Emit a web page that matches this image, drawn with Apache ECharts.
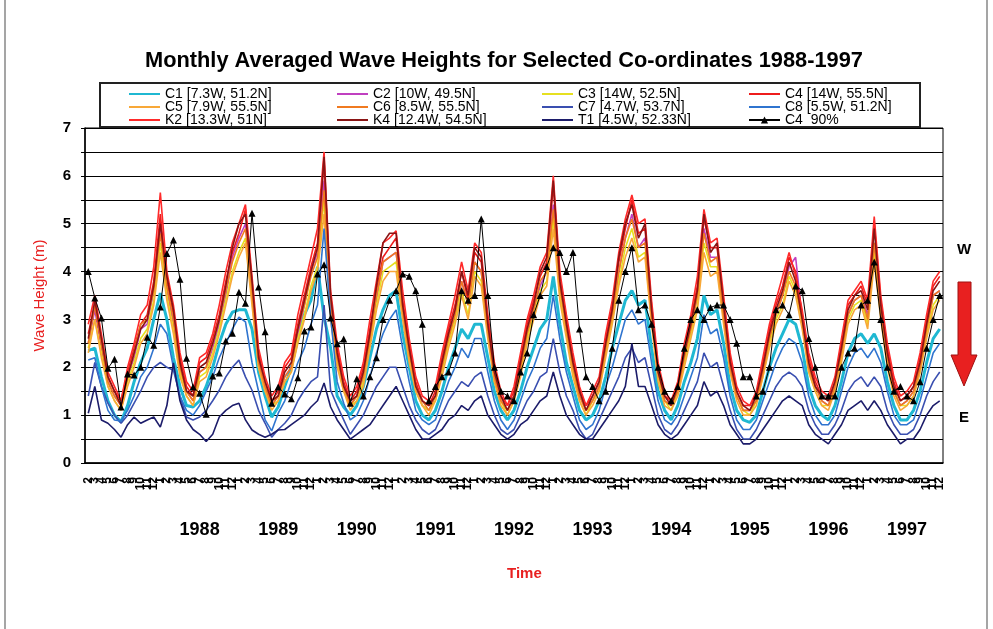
<!DOCTYPE html>
<html><head><meta charset="utf-8">
<script src="https://cdn.jsdelivr.net/npm/echarts@6/dist/echarts.min.js"></script>
<style>html,body{margin:0;padding:0;background:#fff}#c{width:993px;height:629px}</style>
</head><body><div id="c"></div>
<script>
// ---- categories ----
const yearLabels = ['', '1988', '1989', '1990', '1991', '1992', '1993', '1994', '1995', '1996', '1997'];
const monthLabels = ['1','2','3','4','5','6','7','8','9','10','11','12'];
const firstGroupSkip = 1; // first (unlabelled) group starts at month 2

// ---- series values (monthly, Feb of first group .. Dec 1997) ----
const C1 = [2.35,2.4,1.8,1.3,1.0,0.86,1.2,1.7,2.1,2.4,3.0,
 3.55,3.0,2.2,1.6,1.2,1.17,1.3,1.6,2.0,2.5,2.9,3.15,
 3.2,3.2,2.8,1.9,1.4,0.96,1.17,1.6,2.0,2.6,3.1,3.4,
 4.1,3.05,2.4,1.4,1.17,1.0,1.2,1.6,2.2,2.8,3.2,3.5,
 3.6,2.7,2.0,1.3,1.0,0.9,1.1,1.5,2.0,2.4,2.8,2.6,
 2.9,2.9,2.2,1.5,1.1,0.9,1.1,1.5,2.0,2.4,2.8,3.0,
 3.9,2.9,2.1,1.6,1.1,0.9,1.0,1.3,1.8,2.4,2.9,3.4,
 3.6,3.3,3.4,2.4,1.5,1.1,0.9,1.2,1.7,2.1,2.6,3.5,
 3.1,3.2,2.5,1.6,1.1,0.9,0.85,1.0,1.5,2.0,2.4,2.7,
 3.0,2.9,2.4,1.6,1.2,1.0,0.9,1.2,1.7,2.3,2.6,2.7,
 2.5,2.7,2.4,1.7,1.2,0.9,0.9,1.1,1.5,2.1,2.6,2.8];
const C2 = [2.5,3.2,2.4,1.7,1.4,1.2,1.8,2.2,2.8,2.9,3.6,
 5.0,3.6,2.9,2.0,1.5,1.3,1.9,2.0,2.4,2.9,3.5,4.3,
 4.7,5.0,3.5,2.1,1.6,1.2,1.4,1.8,2.0,2.7,3.3,4.0,
 4.4,5.9,3.3,2.2,1.6,1.2,1.4,1.8,2.6,3.4,4.2,4.3,
 4.4,3.2,2.3,1.6,1.2,1.1,1.4,2.0,2.6,3.1,3.8,3.3,
 4.2,4.0,2.8,1.8,1.3,1.1,1.4,2.0,2.7,3.2,3.7,4.0,
 5.4,3.7,2.8,2.0,1.4,1.1,1.3,1.6,2.4,3.1,4.0,4.7,
 5.2,4.5,4.7,3.1,1.9,1.3,1.2,1.5,2.2,2.8,3.5,4.9,
 4.3,4.3,3.2,2.0,1.4,1.1,1.1,1.3,1.9,2.6,3.1,3.5,
 4.1,4.3,3.0,2.0,1.6,1.3,1.2,1.6,2.3,3.1,3.4,3.5,
 3.1,4.6,3.2,2.2,1.5,1.2,1.3,1.5,2.0,2.8,3.5,3.6];
const C3 = [2.4,3.0,2.3,1.6,1.3,1.1,1.7,2.1,2.6,2.8,3.4,
 4.6,3.5,2.8,1.9,1.4,1.2,1.8,1.9,2.3,2.8,3.4,4.0,
 4.4,4.7,3.4,2.0,1.5,1.2,1.3,1.7,1.9,2.6,3.1,3.7,
 4.1,5.5,3.1,2.1,1.5,1.2,1.3,1.7,2.5,3.3,4.0,4.1,
 4.2,3.1,2.2,1.5,1.2,1.1,1.3,1.9,2.5,3.0,3.6,3.1,
 4.0,3.8,2.7,1.7,1.3,1.0,1.3,1.9,2.6,3.1,3.6,3.8,
 5.1,3.5,2.7,1.9,1.3,1.0,1.3,1.5,2.3,3.0,3.8,4.5,
 4.9,4.3,4.4,3.0,1.8,1.3,1.1,1.5,2.1,2.7,3.3,4.6,
 4.1,4.1,3.0,1.9,1.4,1.1,1.0,1.3,1.8,2.5,3.0,3.3,
 3.9,3.6,2.9,1.9,1.5,1.2,1.2,1.5,2.2,3.0,3.3,3.4,
 2.9,4.4,3.1,2.1,1.5,1.2,1.2,1.4,1.9,2.7,3.3,3.5];
const C4 = [2.7,3.3,2.5,1.8,1.5,1.3,1.9,2.4,2.9,3.1,3.8,
 5.2,3.8,3.1,2.2,1.6,1.4,2.1,2.2,2.6,3.1,3.8,4.4,
 4.8,5.3,3.7,2.3,1.7,1.3,1.5,2.0,2.2,2.9,3.5,4.1,
 4.6,6.3,3.4,2.4,1.7,1.3,1.5,2.0,2.8,3.6,4.3,4.5,
 4.7,3.4,2.5,1.7,1.3,1.2,1.5,2.2,2.8,3.3,4.0,3.4,
 4.4,4.2,3.0,2.0,1.4,1.2,1.5,2.2,2.9,3.4,3.9,4.2,
 5.8,3.9,3.0,2.2,1.5,1.2,1.4,1.7,2.6,3.3,4.2,4.9,
 5.5,4.8,4.9,3.3,2.0,1.4,1.3,1.6,2.4,3.0,3.7,5.1,
 4.5,4.5,3.4,2.2,1.5,1.2,1.2,1.4,2.1,2.8,3.3,3.7,
 4.3,4.0,3.1,2.2,1.7,1.4,1.3,1.7,2.5,3.3,3.5,3.7,
 3.3,5.0,3.4,2.4,1.7,1.3,1.4,1.6,2.2,3.0,3.7,3.9];
const C5 = [2.3,3.0,2.2,1.6,1.3,1.1,1.6,2.0,2.5,2.7,3.3,
 4.4,3.4,2.7,1.8,1.4,1.2,1.7,1.8,2.2,2.7,3.3,3.9,
 4.3,4.6,3.3,2.0,1.5,1.1,1.3,1.7,1.9,2.5,3.0,3.6,
 4.0,5.2,3.0,2.0,1.5,1.1,1.3,1.6,2.4,3.2,3.8,4.0,
 4.0,3.0,2.1,1.5,1.2,1.0,1.3,1.8,2.4,2.9,3.5,3.0,
 3.9,3.7,2.6,1.7,1.2,1.0,1.3,1.8,2.5,3.0,3.5,3.7,
 4.9,3.4,2.6,1.8,1.3,1.0,1.2,1.5,2.2,2.9,3.7,4.3,
 4.7,4.2,4.3,2.9,1.7,1.2,1.1,1.4,2.0,2.6,3.2,4.4,
 3.9,4.0,2.9,1.9,1.3,1.0,1.0,1.2,1.8,2.4,2.9,3.2,
 3.8,3.5,2.8,1.9,1.5,1.2,1.1,1.5,2.1,2.9,3.2,3.3,
 2.8,4.2,3.0,2.0,1.4,1.1,1.2,1.4,1.9,2.6,3.2,3.4];
const C6 = [2.5,3.3,2.5,1.7,1.4,1.2,1.8,2.3,2.9,3.0,3.6,
 4.8,3.7,3.0,2.0,1.5,1.3,1.9,2.0,2.5,3.0,3.6,4.2,
 4.6,4.9,3.6,2.1,1.6,1.2,1.4,1.8,2.0,2.8,3.3,3.9,
 4.3,5.7,3.3,2.2,1.6,1.2,1.4,1.8,2.6,3.5,4.2,4.3,
 4.4,3.2,2.3,1.6,1.3,1.1,1.4,2.0,2.6,3.1,3.8,3.3,
 4.2,4.0,2.8,1.8,1.3,1.1,1.4,2.0,2.7,3.2,3.8,4.0,
 5.3,3.7,2.8,2.0,1.4,1.1,1.3,1.6,2.4,3.1,4.0,4.7,
 5.1,4.5,4.6,3.1,1.9,1.3,1.2,1.5,2.2,2.8,3.5,4.8,
 4.2,4.3,3.1,2.0,1.4,1.1,1.1,1.3,1.9,2.6,3.1,3.5,
 4.0,3.7,3.0,2.0,1.6,1.3,1.2,1.6,2.3,3.1,3.4,3.5,
 3.0,4.6,3.2,2.2,1.5,1.2,1.3,1.5,2.0,2.8,3.5,3.6];
const C7 = [1.4,2.1,1.6,1.25,1.0,0.83,1.0,1.25,1.5,1.8,2.0,
 2.1,2.0,1.94,1.4,0.96,0.9,0.96,1.1,1.3,1.52,1.8,2.0,
 2.15,1.8,1.52,1.1,0.83,0.54,0.7,0.83,1.0,1.3,1.52,1.7,
 1.8,3.3,1.52,1.2,0.9,0.6,0.8,1.0,1.3,1.6,1.8,2.0,
 2.0,1.6,1.2,0.9,0.7,0.6,0.7,1.0,1.3,1.5,1.7,1.6,
 1.8,1.9,1.4,1.0,0.7,0.6,0.7,1.0,1.3,1.5,1.8,1.9,
 2.6,1.9,1.4,1.1,0.7,0.5,0.6,0.9,1.2,1.5,1.8,2.2,
 2.4,2.1,2.2,1.6,1.0,0.7,0.6,0.8,1.1,1.4,1.7,2.3,
 2.0,2.1,1.6,1.1,0.7,0.5,0.5,0.7,1.0,1.3,1.6,1.8,
 1.9,1.8,1.6,1.1,0.8,0.6,0.6,0.8,1.1,1.5,1.7,1.8,
 1.6,1.8,1.6,1.1,0.8,0.6,0.6,0.7,1.0,1.4,1.7,1.9];
const C8 = [2.15,2.2,1.6,1.1,0.9,0.88,1.1,1.4,1.8,2.0,2.4,
 2.9,2.7,2.0,1.4,1.1,1.0,1.2,1.5,1.8,2.2,2.5,2.8,
 3.05,2.95,2.1,1.5,0.9,0.67,1.04,1.3,1.7,2.1,2.4,2.9,
 3.3,4.9,3.05,1.7,1.25,0.9,1.0,1.3,1.8,2.3,2.7,3.0,
 3.2,2.4,1.7,1.1,0.9,0.8,0.9,1.3,1.7,2.0,2.4,2.2,
 2.6,2.6,1.9,1.3,0.9,0.7,0.9,1.3,1.7,2.0,2.4,2.6,
 3.5,2.6,1.9,1.4,0.9,0.7,0.8,1.1,1.6,2.0,2.5,3.0,
 3.2,2.9,3.0,2.1,1.3,0.9,0.8,1.0,1.4,1.8,2.2,3.1,
 2.7,2.8,2.2,1.4,0.9,0.7,0.7,0.9,1.3,1.7,2.1,2.4,
 2.6,2.5,2.1,1.4,1.0,0.8,0.8,1.0,1.5,2.0,2.3,2.4,
 2.2,2.4,2.1,1.5,1.0,0.8,0.8,0.9,1.3,1.8,2.3,2.5];
const K2 = [2.9,3.5,2.7,1.9,1.6,1.3,2.0,2.5,3.1,3.3,4.1,
 5.65,4.0,3.3,2.3,1.7,1.5,2.2,2.3,2.7,3.3,4.0,4.6,
 5.0,5.4,3.9,2.4,1.8,1.4,1.6,2.1,2.3,3.1,3.7,4.3,
 4.9,6.5,3.6,2.5,1.8,1.4,1.6,2.1,3.0,3.8,4.6,4.7,
 4.85,3.6,2.6,1.8,1.4,1.3,1.6,2.3,2.9,3.5,4.2,3.6,
 4.6,4.4,3.1,2.1,1.5,1.2,1.6,2.3,3.0,3.5,4.1,4.4,
 6.0,4.0,3.1,2.3,1.6,1.2,1.5,1.8,2.7,3.4,4.4,5.1,
 5.6,5.0,5.1,3.4,2.1,1.5,1.3,1.7,2.5,3.1,3.9,5.3,
 4.6,4.7,3.5,2.3,1.6,1.3,1.2,1.5,2.2,2.9,3.4,3.9,
 4.4,3.9,3.2,2.3,1.8,1.5,1.4,1.8,2.6,3.4,3.6,3.8,
 3.4,5.15,3.5,2.5,1.8,1.4,1.5,1.7,2.3,3.1,3.8,4.0];
const K4 = [2.6,3.4,2.6,1.8,1.5,1.2,1.8,2.3,2.8,3.0,3.7,
 5.0,3.9,3.2,2.1,1.5,1.4,2.0,2.1,2.5,3.0,3.7,4.5,
 5.0,5.2,3.8,2.2,1.7,1.3,1.4,1.9,2.1,2.8,3.4,4.0,
 4.5,6.4,3.5,2.3,1.6,1.3,1.4,1.9,2.7,3.7,4.6,4.8,
 4.8,3.3,2.4,1.6,1.3,1.2,1.4,2.1,2.7,3.2,4.0,3.5,
 4.5,4.3,2.9,1.9,1.4,1.1,1.4,2.1,2.8,3.3,4.0,4.3,
 5.9,3.8,2.9,2.1,1.5,1.1,1.4,1.7,2.5,3.2,4.3,5.0,
 5.4,4.7,5.0,3.2,1.9,1.4,1.2,1.6,2.3,2.9,3.6,5.2,
 4.4,4.6,3.3,2.1,1.5,1.2,1.1,1.4,2.0,2.7,3.2,3.6,
 4.2,3.8,3.0,2.1,1.6,1.4,1.3,1.7,2.4,3.2,3.5,3.6,
 3.2,4.9,3.3,2.3,1.6,1.3,1.4,1.6,2.1,2.9,3.6,3.8];
const T1 = [1.04,1.6,0.9,0.83,0.7,0.54,0.8,0.96,0.83,0.9,0.96,
 0.75,1.2,2.09,1.3,0.9,0.7,0.6,0.45,0.6,0.96,1.1,1.2,
 1.25,0.9,0.69,0.6,0.54,0.6,0.69,0.7,0.8,0.9,1.0,1.17,
 1.3,1.67,1.17,0.9,0.7,0.5,0.6,0.7,0.8,1.0,1.2,1.4,
 1.6,1.3,1.0,0.7,0.5,0.5,0.6,0.7,0.9,1.0,1.2,1.1,
 1.3,1.4,1.0,0.8,0.6,0.5,0.6,0.8,0.9,1.1,1.3,1.4,
 1.9,1.4,1.0,0.8,0.6,0.5,0.5,0.7,0.9,1.1,1.3,1.6,
 2.5,1.6,1.6,1.2,0.8,0.6,0.5,0.6,0.8,1.0,1.2,1.7,
 1.4,1.5,1.2,0.8,0.6,0.4,0.4,0.5,0.7,0.9,1.1,1.3,
 1.4,1.3,1.2,0.8,0.6,0.5,0.4,0.6,0.8,1.1,1.2,1.3,
 1.1,1.3,1.1,0.8,0.6,0.4,0.5,0.5,0.7,1.0,1.2,1.3];
const C4_90 = [4.0,3.45,3.03,1.98,2.17,1.17,1.86,1.84,2.0,2.63,2.46,
 3.26,4.38,4.66,3.84,2.19,1.59,1.46,1.02,1.82,1.88,2.55,2.71,
 3.57,3.34,5.22,3.68,2.74,1.25,1.59,1.44,1.34,1.78,2.76,2.84,
 3.95,4.14,3.03,2.49,2.59,1.25,1.76,1.4,1.8,2.2,3.0,3.4,
 3.6,3.95,3.9,3.6,2.9,1.3,1.6,1.8,1.9,2.3,3.6,3.4,
 3.5,5.1,3.5,2.0,1.5,1.4,1.3,1.9,2.3,3.1,3.5,4.1,
 4.5,4.4,4.0,4.4,2.8,1.8,1.6,1.3,1.5,2.4,3.4,4.0,
 4.5,3.2,3.3,2.9,2.0,1.5,1.3,1.6,2.4,3.0,3.2,3.0,
 3.25,3.3,3.3,3.0,2.5,1.8,1.8,1.4,1.5,2.0,3.2,3.3,
 3.1,3.7,3.6,2.6,2.0,1.4,1.4,1.4,2.0,2.3,2.4,3.3,
 3.4,4.2,3.0,2.0,1.5,1.6,1.4,1.3,1.7,2.4,3.0,3.5];

const seriesNames = ['C1 [7.3W, 51.2N]','C2 [10W, 49.5N]','C3 [14W, 52.5N]','C4 [14W, 55.5N]',
 'C5 [7.9W, 55.5N]','C6 [8.5W, 55.5N]','C7 [4.7W, 53.7N]','C8 [5.5W, 51.2N]',
 'K2 [13.3W, 51N]','K4 [12.4W, 54.5N]','T1 [4.5W, 52.33N]','C4  90%'];
const seriesData = [C1,C2,C3,C4,C5,C6,C7,C8,K2,K4,T1,C4_90];
const seriesColors = ['#1fb8d2','#c040c0','#e6e020','#ee1c1c','#f8a838','#f07a20','#3a4fb0','#2f74cf','#ff2a2a','#8a1414','#1c1c6a','#000000'];

// ---- build categories ----
const cats = [];
yearLabels.forEach((y, gi) => {
  monthLabels.forEach((m, mi) => {
    if (gi === 0 && mi < firstGroupSkip) return;
    cats.push(gi + '|' + m);
  });
});

const chart = echarts.init(document.getElementById('c'), null, {renderer: 'canvas'});
const FONT = '"Liberation Sans", Arial, sans-serif';

const series = seriesNames.map((n, i) => {
  const isTri = i === 11;
  return {
    name: n, type: 'line', data: seriesData[i], xAxisIndex: 0,
    symbol: isTri ? 'triangle' : 'none', symbolSize: 7, showSymbol: isTri,
    lineStyle: {width: i === 0 ? 3 : (isTri ? 1 : 1.6), color: seriesColors[i]},
    itemStyle: {color: seriesColors[i]},
    emphasis: {disabled: true}, animation: false
  };
});

function legendCol(idxs, left) {
  return {
    orient: 'vertical', left: left, top: 87, padding: 0, itemGap: -1, itemWidth: 31, itemHeight: 9,
    itemStyle: {opacity: 0},
    data: idxs.map(i => i === 11 ? {name: seriesNames[i], itemStyle: {opacity: 1}} : {name: seriesNames[i]}),
    selectedMode: false,
    textStyle: {fontFamily: FONT, fontSize: 14, color: '#000', lineHeight: 12, height: 12}
  };
}

chart.setOption({
  animation: false,
  backgroundColor: '#fff',
  title: {
    text: 'Monthly Averaged Wave Heights for Selected Co-ordinates 1988-1997',
    left: 140, top: 45,
    textStyle: {fontFamily: FONT, fontSize: 21.8, fontWeight: 'bold', color: '#000'}
  },
  legend: [
    legendCol([0, 4, 8], 128),
    legendCol([1, 5, 9], 336),
    legendCol([2, 6, 10], 541),
    legendCol([3, 7, 11], 748)
  ],
  grid: {left: 85, right: 50, top: 128, bottom: 166, show: true, borderColor: '#000', borderWidth: 1},
  xAxis: [
    {
      type: 'category', data: cats, position: 'bottom', boundaryGap: true,
      axisLine: {lineStyle: {color: '#000', width: 1.5}},
      axisTick: {interval: 0, length: 37, lineStyle: {color: '#000', width: 1}},
      axisLabel: {interval: 0, rotate: 90, margin: 14, fontFamily: FONT, fontSize: 12, fontWeight: 'bold', color: '#000',
        formatter: v => v.split('|')[1]},
      splitLine: {show: false}
    },
    {
      type: 'category', data: cats, position: 'bottom', boundaryGap: true,
      axisLine: {show: false},
      axisTick: {interval: (idx, v) => idx === 0 || v.split('|')[1] === '1', length: 82, lineStyle: {color: '#000', width: 1}},
      axisLabel: {interval: (idx, v) => v.split('|')[1] === '7', margin: 58, fontFamily: FONT, fontSize: 18, fontWeight: 'bold', color: '#000',
        formatter: v => yearLabels[+v.split('|')[0]]},
      splitLine: {show: false}
    }
  ],
  yAxis: {
    type: 'value', min: 0, max: 7, interval: 0.5,
    name: 'Wave Height (m)', nameLocation: 'middle', nameGap: 38, nameRotate: 90,
    nameTextStyle: {fontFamily: FONT, fontSize: 15, color: '#e82020'},
    axisLine: {show: true, lineStyle: {color: '#000', width: 1.5}},
    axisTick: {show: true, length: 4, lineStyle: {color: '#000'}},
    axisLabel: {fontFamily: FONT, fontSize: 15, fontWeight: 'bold', color: '#000', margin: 14,
      formatter: v => Number.isInteger(v) ? String(v) : ''},
    splitLine: {lineStyle: {color: '#000', width: 1}}
  },
  series: series,
  graphic: [
    {type: 'rect', shape: {x: 5, y: -2, width: 982, height: 634}, style: {fill: 'none', stroke: '#888', lineWidth: 1.5}, silent: true, z: -1},
    {type: 'rect', shape: {x: 100, y: 83, width: 820, height: 44}, style: {fill: 'none', stroke: '#222', lineWidth: 2}, silent: true},
    {type: 'text', left: 507, top: 566, style: {text: 'Time', fill: '#e82020', font: 'bold 15px ' + FONT}},
    {type: 'text', left: 957, top: 242, style: {text: 'W', fill: '#000', font: 'bold 15px ' + FONT}},
    {type: 'text', left: 959, top: 410, style: {text: 'E', fill: '#000', font: 'bold 15px ' + FONT}},
    {type: 'polygon', shape: {points: [[958, 282], [971, 282], [971, 355], [977, 355], [964, 386], [951, 355], [958, 355]]},
      style: {fill: '#e82020', stroke: '#a01010', lineWidth: 1}, silent: true}
  ]
});
</script></body></html>
